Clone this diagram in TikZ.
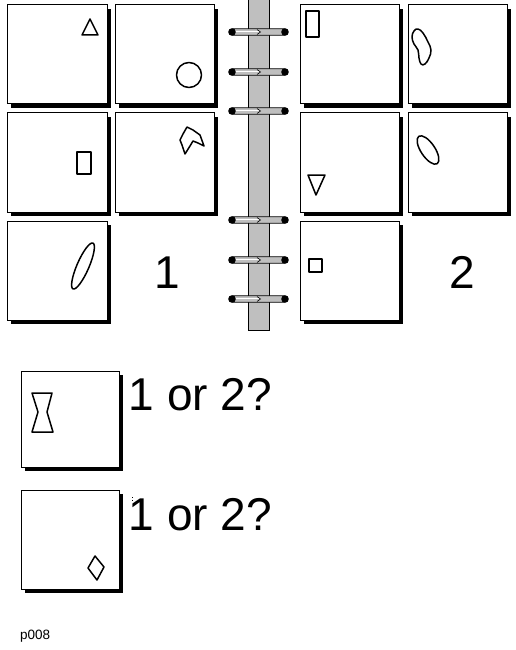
\documentclass[tikz,border=0pt]{standalone}
\usepackage{fontspec}
\setsansfont{Liberation Sans}

\definecolor{spinegray}{gray}{0.75}

\tikzset{
  panel/.style={draw=black, fill=white, line width=1pt},
  figure/.style={draw=black, line width=1.5pt, line join=round},
  bigtext/.style={font=\sffamily\fontsize{46}{50}\selectfont, inner sep=0pt},
}

\begin{document}
\begin{tikzpicture}[x=1pt,y=-1pt]
    \useasboundingbox[fill=white] (0,0) rectangle (516,650);
    % panels with their shadows
    \foreach \px/\py/\w/\h in {7/5/100/99, 115/5/99/99, 7/113/100/99, 115/113/99/99,
        7/221/100/99, 300/5/99/99, 408/5/99/99, 300/113/99/99, 408/113/99/99,
        300/221/99/99, 21/371/98/96, 21/490/98/99} {
      \fill (\px+4,\py+4) rectangle ++(\w,\h);
      \draw[panel] (\px,\py) rectangle ++(\w,\h);
    }
    % spine and rings
    \draw[fill=spinegray, line width=0.8pt] (248,-1) rectangle (269,330);
    \foreach \ry in {32,72,111,220,260,299} {
      \draw[fill=spinegray, line width=0.8pt, rounded corners=3pt] (230,\ry-3.2) rectangle (287,\ry+3.2);
      \draw[white, line width=1.4pt] (234,\ry-0.6) -- (259,\ry-0.6);
      \draw[line width=0.6pt] (257,\ry-2.5) -- (260.5,\ry) -- (257,\ry+2.5);
      \fill (232,\ry) circle[radius=3.8pt];
      \fill (285,\ry) circle[radius=3.8pt];
    }
    % side 1
    \draw[figure] (82,35) -- (98,35) -- (90,19) -- cycle;
    \draw[figure] (189,75) circle[radius=12.5pt];
    \draw[figure] (77,152) rectangle (91,174);
    \draw[figure] (187,127) -- (193,130) -- (200,135) -- (204,146) -- (198,143) -- (193,141)
      -- (190,146) -- (185,154) -- (182,145) -- (180,140) -- (183,134) -- cycle;
    \draw[figure, rotate around={66.5:(83,266)}] (83,266) ellipse[x radius=25pt, y radius=6pt];
    % side 2
    \draw[figure] (306,11) rectangle (319,37);
    \draw[figure] plot[smooth cycle, tension=0.7] coordinates {(418,29) (423,33) (428,42)
      (431,50) (429,58) (425,64) (421,64) (419,58) (418,50) (414,44) (412,37) (414,31)};
    \draw[figure] (308,175) -- (325,175) -- (316,195) -- cycle;
    \draw[figure, rotate around={-56:(428,150)}] (428,150) ellipse[x radius=16.5pt, y radius=7pt];
    \draw[figure] (309,259) rectangle (322,272);
    % test panels
    \draw[figure] (32,393) -- (52,393) -- (47,412) -- (53,432) -- (32,432) -- (38,412) -- cycle;
    \draw[figure] (95,556) -- (104,567) -- (97,580) -- (88,568) -- cycle;
    % texts
    \node[bigtext, anchor=base] (one) at (167,288) {1};
    \node[bigtext, anchor=base] (two) at (462.5,288) {2};
    \node[bigtext, anchor=base west] (askA) at (128.5,410) {1 or 2?};
    \node[bigtext, anchor=base west] (askB) at (128.5,530) {1 or 2?};
    \fill (131.5,496.5) rectangle (132.5,497.5);
    \fill (131.5,499.5) rectangle (132.5,500.5);
    \node[font=\sffamily\fontsize{13.5}{15}\selectfont, inner sep=0pt, anchor=base west] (tag) at (20,639) {p008};
\end{tikzpicture}
\end{document}
